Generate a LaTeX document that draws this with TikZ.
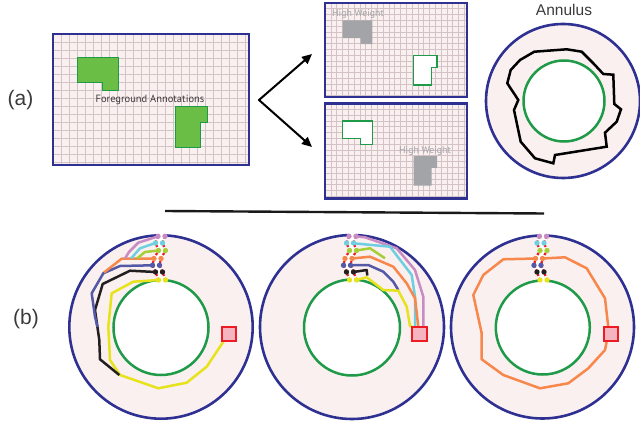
\documentclass[tikz,border=0pt]{standalone}
\usepackage{fontspec}
\setmainfont{Liberation Sans}
\newfontfamily\ptsans{PT Sans}
\usetikzlibrary{arrows.meta}
\definecolor{navy}{HTML}{2E3192}
\definecolor{bgpink}{HTML}{FBF0F0}
\definecolor{gridc}{HTML}{D3C2C6}
\definecolor{fgreen}{HTML}{6ABD45}
\definecolor{dgreen}{HTML}{1E9A48}
\definecolor{hwgray}{HTML}{A2A4A7}
\definecolor{sqfill}{HTML}{F4B5C0}
\definecolor{sqred}{HTML}{ED1C24}
\definecolor{cpink}{HTML}{C98BC4}
\definecolor{ccyan}{HTML}{6DCFDF}
\definecolor{cyg}{HTML}{A6CE39}
\definecolor{corange}{HTML}{F7874A}
\definecolor{cblue}{HTML}{5359A6}
\definecolor{cblack}{HTML}{231F20}
\definecolor{cyellow}{HTML}{E6E31D}
\definecolor{txt}{HTML}{3A3A3A}
\tikzset{
  frame/.style={draw=navy, line width=2.6pt},
  gridlines/.style={draw=gridc, line width=0.6pt},
  fgshape/.style={fill=fgreen, draw=dgreen, line width=1pt},
  hwshape/.style={fill=hwgray},
  outshape/.style={fill=white, draw=dgreen, line width=1.5pt},
  ring/.style={draw=navy, line width=2.6pt, fill=bgpink},
  hole/.style={draw=dgreen, line width=2.5pt, fill=white},
  pathline/.style={line width=2.5pt, line join=round},
  sqbox/.style={fill=sqfill, draw=sqred, line width=2pt},
  cutline/.style={draw=sqred, line width=2.2pt, dash pattern=on 2.5pt off 2pt},
  arrowline/.style={draw=black, line width=2pt, -{Triangle[length=10pt,width=9pt]}},
  hwtext/.style={text=hwgray, font=\ptsans\fontsize{9.8}{11}\selectfont, inner sep=0pt},
  labeltext/.style={text=txt, font=\fontsize{21}{24}\selectfont, inner sep=0pt},
}
\newcommand\cutat[2]{%
  \begin{scope}[shift={(#1,#2)}]
    \fill[white] (-3,-94) -- (-3,-90.7) -- (-5.5,-84) -- (-2.5,-76.5) -- (-7,-68.5) -- (-8.5,-61.7) -- (-5.5,-55) -- (-2.5,-47) -- (-2.5,-45)
       -- (4.5,-45) -- (4.5,-47) -- (1.5,-55) -- (-1.5,-61.7) -- (0,-68.5) -- (4.5,-76.5) -- (1.5,-84) -- (4,-90.7) -- (4,-94) -- cycle;
    \draw[white, line width=2.2pt] (-3,-90.7) -- (-5.5,-84) -- (-2.5,-76.5) -- (-7,-68.5) -- (-8.5,-61.7) -- (-5.5,-55) -- (-2.5,-47);
    \draw[white, line width=2.2pt] (4,-90.7) -- (1.5,-84) -- (4.5,-76.5) -- (0,-68.5) -- (-1.5,-61.7) -- (1.5,-55) -- (4.5,-47);
    \draw[cutline] (-3,-90.7) -- (-5.5,-84) -- (-2.5,-76.5) -- (-7,-68.5) -- (-8.5,-61.7) -- (-5.5,-55) -- (-2.5,-47);
    \draw[cutline] (4,-90.7) -- (1.5,-84) -- (4.5,-76.5) -- (0,-68.5) -- (-1.5,-61.7) -- (1.5,-55) -- (4.5,-47);
    \foreach \dx in {0,7}{
      \fill[cpink]   (-3+\dx,-90.7) circle[radius=2.7pt];
      \fill[ccyan]   (-5.5+\dx,-84) circle[radius=2.7pt];
      \fill[cyg]     (-2.5+\dx,-76.5) circle[radius=2.7pt];
      \fill[corange] (-7+\dx,-68.5) circle[radius=2.7pt];
      \fill[cblue]   (-8.5+\dx,-61.7) circle[radius=2.7pt];
      \fill[cblack]  (-5.5+\dx,-55) circle[radius=2.7pt];
      \fill[cyellow] (-2.5+\dx,-47) circle[radius=2.7pt];
    }
  \end{scope}}
\begin{document}
\begin{tikzpicture}[x=1pt,y=-1pt]
\useasboundingbox (0,0) rectangle (640,425);

% ---------- (a) left picture ----------
\fill[bgpink] (53,34) rectangle (249,165);
\begin{scope}
  \clip (53,34) rectangle (249,165);
  \begin{scope}[shift={(53,34)}]
    \draw[gridlines, step=8pt] (0,0) grid (196,131);
  \end{scope}
\end{scope}
\begin{scope}[shift={(53,34)}]
  \draw[fgshape] (24.3,24) -- (65.3,24) -- (65.3,56.7) -- (49.3,56.7) -- (49.3,48.3) -- (24.3,48.3) -- cycle;
  \draw[fgshape] (122.3,72.7) -- (154.7,72.7) -- (154.7,88.7) -- (147,88.7) -- (147,113.3) -- (122.3,113.3) -- cycle;
\end{scope}
\draw[frame] (53,34) rectangle (249,165);
\node[text=txt, font=\ptsans\fontsize{10.5}{12}\selectfont, inner sep=0pt] (fgtext) at (150,100) {Foreground Annotations};

% ---------- arrows ----------
\coordinate (fork) at (259,100);
\coordinate (tipup) at (312,54);
\coordinate (tipdown) at (312,147);
\draw[arrowline, shorten <=-0.5pt] (fork) -- (tipup);
\draw[arrowline, shorten <=-0.5pt] (fork) -- (tipdown);

% ---------- (a) top small picture ----------
\fill[bgpink] (325,3) rectangle (467,97);
\begin{scope}
  \clip (325,3) rectangle (467,97);
  \begin{scope}[shift={(325,3)}]
    \draw[gridlines, step=5.8pt] (0,0) grid (142,94);
  \end{scope}
\end{scope}
\begin{scope}[shift={(325,3)}, scale=0.725]
  \fill[hwshape] (24.3,24) -- (65.3,24) -- (65.3,56.7) -- (49.3,56.7) -- (49.3,48.3) -- (24.3,48.3) -- cycle;
  \draw[outshape] (122.3,72.7) -- (154.7,72.7) -- (154.7,88.7) -- (147,88.7) -- (147,113.3) -- (122.3,113.3) -- cycle;
\end{scope}
\draw[frame] (325,3) rectangle (467,97);
\node[hwtext] (hw1) at (358,14) {High Weight};

% ---------- (a) bottom small picture ----------
\fill[bgpink] (325,103.5) rectangle (467,198.5);
\begin{scope}
  \clip (325,103.5) rectangle (467,198.5);
  \begin{scope}[shift={(325,103.5)}]
    \draw[gridlines, step=5.8pt] (0,0) grid (142,95);
  \end{scope}
\end{scope}
\begin{scope}[shift={(325,103.5)}, scale=0.725]
  \draw[outshape] (24.3,24) -- (65.3,24) -- (65.3,56.7) -- (49.3,56.7) -- (49.3,48.3) -- (24.3,48.3) -- cycle;
  \fill[hwshape] (122.3,72.7) -- (154.7,72.7) -- (154.7,88.7) -- (147,88.7) -- (147,113.3) -- (122.3,113.3) -- cycle;
\end{scope}
\draw[frame] (325,103.5) rectangle (467,198.5);
\node[hwtext] (hw2) at (425,151) {High Weight};

% ---------- (a) annulus ----------
\draw[ring] (563,101) circle[radius=77pt];
\draw[hole] (564,101) circle[radius=40.5pt];
\draw[line width=2.5pt, line join=miter] (534.3,51.7) -- (566.7,49.3) -- (581.7,51.7) -- (593.3,63.3) -- (603.3,74) -- (613.3,74.7) -- (614.3,104) -- (621,109.3) -- (616.7,121.7) -- (605,132.7) -- (606.7,146.7) -- (555,155) -- (553.3,163.3) -- (535,158.3) -- (520.7,141.7) -- (514,110) -- (518.3,100) -- (507.3,83.3) -- (510.7,70) -- (520,60) -- cycle;
\node[text=txt, font=\fontsize{15.5}{18}\selectfont, inner sep=0pt] (annlabel) at (564,10) {Annulus};

% ---------- labels ----------
\node[labeltext] (la) at (20.5,100) {(a)};
\node[labeltext] (lb) at (26,319) {(b)};

% ---------- separator ----------
\coordinate (sepL) at (165,211);
\coordinate (sepR) at (544,213.5);
\draw[draw=black!90, line width=2.4pt] (sepL) -- (sepR);

% ---------- (b) annulus 1 ----------
\draw[ring] (161,327) circle[radius=91.7pt];
\draw[hole] (161,327.5) circle[radius=47.5pt];
\draw[pathline, cyellow] (158.5,280) -- (133.3,281.7) -- (111.7,293.3) -- (108.3,326.7) -- (110,360) -- (120,375) -- (158.3,388.3) -- (186.7,382.7) -- (206.7,366.7) -- (224,340.7);
\draw[pathline, cblack] (155.5,272) -- (130,270.7) -- (102.7,284) -- (95,310) -- (99.3,340) -- (100,359.3) -- (119.3,375);
\draw[pathline, cblue] (152.5,265.3) -- (120,266) -- (103.3,273.3) -- (91.7,293.3) -- (95,316.7) -- (97.5,327);
\draw[pathline, corange] (154,258.5) -- (121.7,258.7) -- (104,272.5);
\draw[pathline, cyg] (158.5,250.5) -- (145,252) -- (137,258.5);
\draw[pathline, ccyan] (155.5,243) -- (140,248.3) -- (131,258.5);
\draw[pathline, cpink] (158,236.3) -- (138.3,242.7) -- (129,252) -- (125,258.5);
\draw[sqbox] (221.7,326.7) rectangle (235.7,340.7);
\cutat{161}{327}

% ---------- (b) annulus 2 ----------
\draw[ring] (352,327) circle[radius=92pt];
\draw[hole] (352,327.5) circle[radius=48pt];
\draw[pathline, cpink] (356,236.3) -- (365,237.3) -- (396.7,248.3) -- (415,270) -- (423.3,296.7) -- (423.3,326.7);
\draw[pathline, ccyan] (353.5,243.3) -- (390,246.7) -- (411.7,275) -- (415,296.7) -- (415,326.7);
\draw[pathline, cyg] (356.5,250.5) -- (370,248.3) -- (385,258.3);
\draw[pathline, corange] (352,258.5) -- (370,256.7) -- (393.3,266.7) -- (406.7,283.3) -- (415,298.3) -- (418.3,326.7);
\draw[pathline, cblue] (350.5,265.3) -- (368.3,265) -- (383.3,271.7) -- (393.3,281.7) -- (398.3,290);
\draw[pathline, cblack] (353.5,272) -- (366.7,270) -- (367.3,275.5);
\draw[pathline, cyellow] (356.5,280) -- (366.7,277.3) -- (383.3,290) -- (398.3,290.7) -- (406.7,306.7) -- (410,326) -- (412.3,327);
\draw[sqbox] (412.3,326.7) rectangle (426.7,340.7);
\cutat{352}{327}

% ---------- (b) annulus 3 ----------
\draw[ring] (542.5,327) circle[radius=91.5pt];
\draw[hole] (542.8,327.5) circle[radius=47pt];
\draw[pathline, corange] (535.5,258.5) -- (503.3,259.3) -- (483.3,275) -- (473.3,295) -- (481.7,333.3) -- (481.7,359.3) -- (503.3,375) -- (540,388.3) -- (568.3,383.3) -- (588.3,368.3) -- (605,350) -- (606.7,341.3);
\draw[pathline, corange] (542.5,258.5) -- (565,257.3) -- (586.7,268.3) -- (605,298.3) -- (608.3,327.3);
\draw[sqbox] (604,327.3) rectangle (618.3,341.3);
\cutat{542.5}{327}

\end{tikzpicture}
\end{document}
